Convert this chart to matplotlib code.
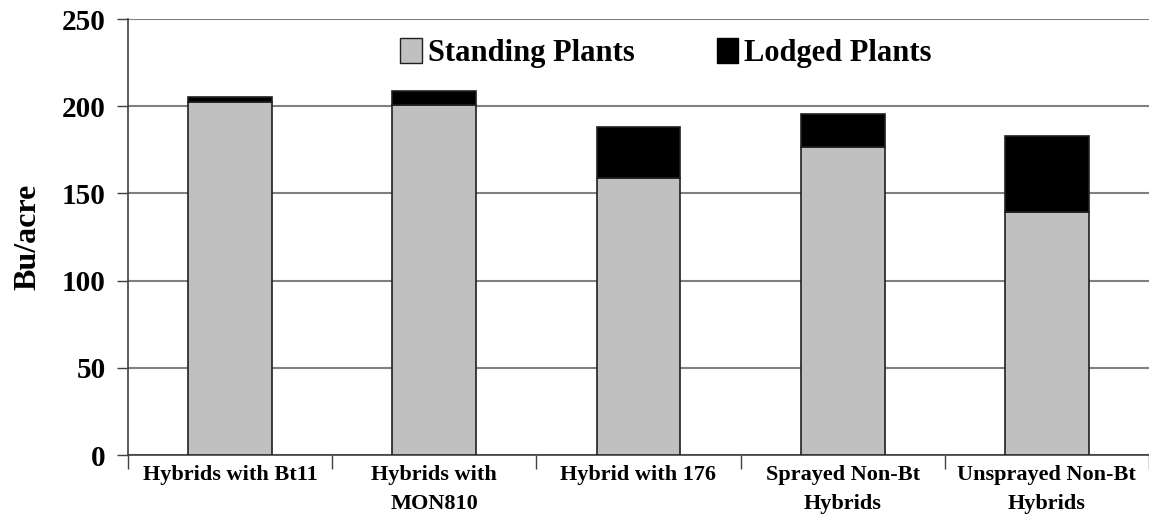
import matplotlib
matplotlib.use("Agg")
import matplotlib.pyplot as plt
from matplotlib.patches import Patch
import numpy as np

categories = ["Hybrids with Bt11", "Hybrids with\nMON810", "Hybrid with 176",
              "Sprayed Non-Bt\nHybrids", "Unsprayed Non-Bt\nHybrids"]
standing = [202.5, 200.6, 159.0, 176.6, 139.2]
lodged = [3.0, 8.2, 29.0, 18.7, 43.5]
yticks = [0, 50, 100, 150, 200, 250]

plt.rcParams['font.family'] = ['Liberation Serif', 'DejaVu Serif']
plt.rcParams['font.weight'] = 'bold'

fig = plt.figure(figsize=(11.49, 5.31), dpi=100)
ax = fig.add_axes([128/1149, 76/531, 1 - 128/1149, 436/531])

x = np.arange(len(categories))
w = 0.41
ax.bar(x, standing, w, color='#c0c0c0', edgecolor='#202020', linewidth=1.2, zorder=3)
ax.bar(x, lodged, w, bottom=standing, color='black', edgecolor='#202020', linewidth=1.2, zorder=3)

ax.set_xlim(-0.5, 4.5)
ax.set_ylim(0, 250)
ax.set_yticks(yticks)
ax.set_yticklabels([str(v) for v in yticks], fontsize=21, fontweight='bold')
ax.yaxis.grid(True, color='#808080', linewidth=1.5, zorder=0)
ax.set_axisbelow(True)

ax.set_xticks(np.arange(-0.5, 4.6, 1.0), minor=False)
ax.set_xticklabels([])
ax.tick_params(axis='x', length=10, width=1, color='#404040', direction='out')
ax.tick_params(axis='y', length=8, width=1, color='#404040', direction='out', pad=8)
for i, c in enumerate(categories):
    ax.text(i, -5.5, c, ha='center', va='top', fontsize=16, fontweight='bold',
            transform=ax.transData, linespacing=1.6)

for s in ['top', 'right']:
    ax.spines[s].set_visible(False)
ax.spines['left'].set_color('#404040')
ax.spines['bottom'].set_color('#404040')
ax.spines['left'].set_linewidth(1.2)
ax.spines['bottom'].set_linewidth(1.2)

ax.set_ylabel('Bu/acre', fontsize=23, fontweight='bold', labelpad=14)

handles = [Patch(facecolor='#c0c0c0', edgecolor='#202020', label='Standing Plants'),
           Patch(facecolor='black', edgecolor='black', label='Lodged Plants')]
leg = ax.legend(handles=handles, loc='upper center', bbox_to_anchor=(0.527, 1.02), ncol=2,
                frameon=False, prop={'size': 22, 'weight': 'bold'},
                handlelength=0.7, handleheight=0.9, handletextpad=0.2, columnspacing=2.7)

fig.savefig('out.png', dpi=100)
